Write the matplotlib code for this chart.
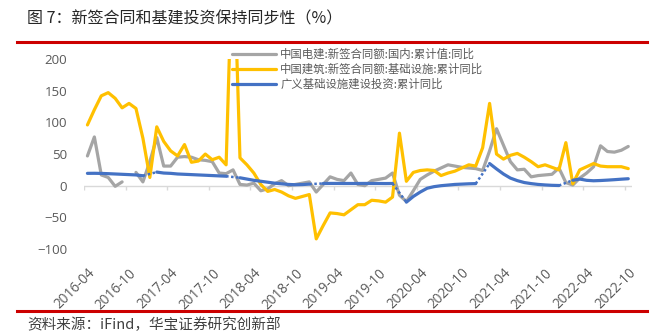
import numpy as np
import matplotlib
matplotlib.use("Agg")
import matplotlib.pyplot as plt
from matplotlib.lines import Line2D

plt.rcParams['font.family'] = ['Noto Sans CJK SC', 'DejaVu Sans']

nan = np.nan

# monthly, 2016-04 .. 2022-10
months = [f"{y}-{m:02d}" for y in range(2016, 2023) for m in range(1, 13)]
months = months[3:3 + 79]

power_china = [47, 77, 17, 13, -1, 6, nan, 21, 6, 38,
               76, 31, 31, 45, 46, 45, 41, 40, 38, 20,
               19, 25, 2, 1, 4, -8, -5, 3, 8, 0,
               2, 4, 6, -10, 2, 14, 10, 8, 20, 2,
               0, 8, 10, 12, 20, -15, -25, -8, 10, 17,
               23, 28, 33, 31, 29, 28, 27, 24, 55, 90,
               64, 38, 25, 26, 14, 16, 17, 18, 28, 5,
               1, 12, 20, 30, 63, 54, 53, 56, 62]

cscec_infra = [96, 120, 142, 147, 138, 123, 130, 122, 75, 13,
               93, 70, 55, 47, 65, 37, 39, 50, 41, 45,
               33, 400, 44, 33, 20, 2, -9, -6, -10, -16,
               -20, -17, -14, -84, -63, -43, -44, -46, -38, -30,
               -30, -23, -24, -26, -18, 83, 7, 21, 24, 25,
               24, 16, 20, 23, 28, 33, 31, 60, 130, 50,
               42, 48, 51, 45, 38, 30, 33, 29, 25, 68,
               3, 25, 30, 35, 31, 30, 30, 30, 27]

infra_invest = [19.5, 19.6, 19.4, 19, 18.5, 18, 17.5, 17, 15.7, nan,
                21.5, 20, 19.5, 18.5, 18, 17.5, 17, 16.5, 16, 15.5,
                15, nan, 12.5, 10.5, 8.5, 7, 5.5, 4, 3, 2,
                1.5, 1.8, 2.5, nan, 3.5, 3.6, 3.6, 3.5, 3.5, 3.5,
                3.6, 3.5, 3.5, 3.4, 3.5, nan, -26, -17, -10, -4,
                -1.5, 0, 1, 2, 2.5, 3, 3.3, nan, 35, 26.5,
                18.5, 12, 8, 5, 3.3, 2, 1.2, 0.6, 0.3, nan,
                8.6, 10.5, 8.5, 7.8, 8.2, 8.8, 9.5, 10.3, 11]

labels = ["中国电建:新签合同额:国内:累计值:同比",
          "中国建筑:新签合同额:基础设施:累计同比",
          "广义基础设施建设投资:累计同比"]
colors = ["#A5A5A5", "#FFC000", "#4472C4"]

title = "图 7：新签合同和基建投资保持同步性（%）"
source = "资料来源：iFind，华宝证券研究创新部"

fig = plt.figure(figsize=(6.56, 3.32), dpi=100)
ax = fig.add_axes([0.128, 0.25, 0.835, 0.572])

x = np.arange(len(months))
series = [power_china, cscec_infra, infra_invest]
for vals, col, lab in zip(series, colors, labels):
    ax.plot(x, vals, color=col, lw=2.3, label=lab, solid_capstyle='round',
            solid_joinstyle='round', zorder=3)

# dotted connectors across missing months of the investment series
inv = np.array(infra_invest, dtype=float)
for i in np.where(np.isnan(inv))[0]:
    if 0 < i < len(inv) - 1:
        ax.plot([i - 1, i + 1], [inv[i - 1], inv[i + 1]], color=colors[2],
                lw=1.8, ls=(0, (1, 1)), zorder=3)

ax.set_xlim(-0.5, len(months) - 0.5)
ax.set_ylim(-100, 200)
ax.set_yticks([-100, -50, 0, 50, 100, 150, 200])
ax.tick_params(axis='y', length=0, pad=12, labelsize=9.5, labelcolor='#595959')
for t in ax.get_yticklabels():
    t.set_family('Open Sans')

tick_pos = x[::6]
ax.set_xticks(tick_pos)
ax.set_xticklabels([months[i] for i in tick_pos], rotation=45, ha='right',
                   va='top', rotation_mode='anchor', family='Open Sans',
                   fontsize=9.8, color='#595959')
ax.tick_params(axis='x', length=0, pad=12)

for s in ax.spines.values():
    s.set_visible(False)

# category axis along zero with outward tick marks
ax.axhline(0, color='#D9D9D9', lw=1, zorder=1)
ax.vlines(tick_pos - 0.5, -7.5, 0, color='#D9D9D9', lw=1, zorder=1)

ax.legend(loc='upper left', bbox_to_anchor=(226 / 656, 1 - 43 / 332),
          bbox_transform=fig.transFigure, frameon=False, fontsize=8.2,
          labelcolor='#595959', handlelength=3.9, handletextpad=0.35,
          labelspacing=0.3, borderpad=0)

fig.text(27 / 656, 1 - 19 / 332, title, fontsize=11.5, color='#262626',
         va='center', ha='left')
fig.add_artist(Line2D([17 / 656, 647 / 656], [1 - 41.5 / 332] * 2,
                      color='#CC0000', lw=2.2))
fig.add_artist(Line2D([17 / 656, 647 / 656], [1 - 311 / 332] * 2,
                      color='#CC0000', lw=2.2))
fig.text(27 / 656, 1 - 325 / 332, source, fontsize=10.5, color='#404040',
         va='center', ha='left')

fig.savefig("out.png", dpi=100)
